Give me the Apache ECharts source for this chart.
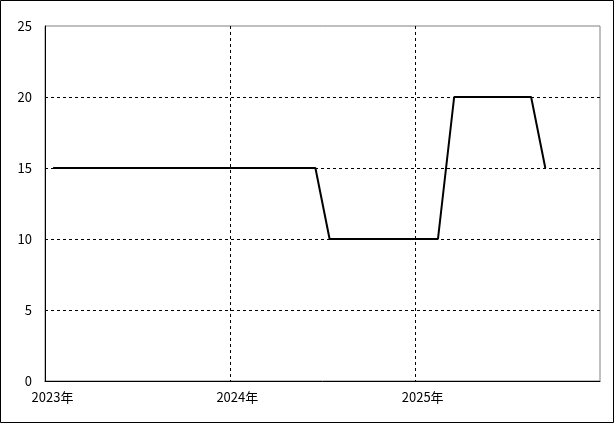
<!DOCTYPE html>
<html>
<head>
<meta charset="utf-8">
<script src="https://cdn.jsdelivr.net/npm/echarts@6/dist/echarts.min.js"></script>
<style>
html,body{margin:0;padding:0;background:#fff;}
#c{width:615px;height:424px;}
</style>
</head>
<body>
<div id="c"></div>
<script>
// Data
var dates  = ['2023-01-17', '2024-06-18', '2024-07-16', '2025-02-15', '2025-03-19', '2025-08-18', '2025-09-15'];
var values = [15, 15, 10, 10, 20, 20, 15];
var xMin = '2023-01-01';
var xMax = '2026-01-01';
var yTicks = [0, 5, 10, 15, 20, 25];

var chart = echarts.init(document.getElementById('c'), null, {renderer: 'canvas'});
var YEAR = 365 * 24 * 3600 * 1000;
var font = '"Noto Sans CJK JP", "DejaVu Sans", sans-serif';

chart.setOption({
  animation: false,
  backgroundColor: '#fff',
  graphic: [{
    type: 'rect',
    shape: {x: 0.5, y: 0.5, width: 613, height: 422},
    style: {fill: null, stroke: '#000', lineWidth: 1},
    silent: true,
    z: 100
  }],
  grid: {
    left: 45, right: 15, top: 26, bottom: 43,
    show: true,
    borderColor: '#808080',
    borderWidth: 1,
    backgroundColor: 'transparent'
  },
  xAxis: {
    type: 'time',
    min: xMin,
    max: xMax,
    minInterval: YEAR,
    maxInterval: YEAR + 2 * 24 * 3600 * 1000,
    axisLine: {show: true, lineStyle: {color: '#000', width: 1}},
    axisTick: {show: false},
    splitLine: {show: true, showMinLine: false, showMaxLine: false, lineStyle: {color: '#000', type: [3, 3], width: 1}},
    axisLabel: {
      color: '#000',
      fontSize: 13,
      fontFamily: font,
      margin: 10,
      padding: [0, 0, 0, 15],
      showMaxLabel: false,
      hideOverlap: false,
      formatter: function (v) { return new Date(v).getFullYear() + '年'; }
    }
  },
  yAxis: {
    type: 'value',
    min: yTicks[0],
    max: yTicks[yTicks.length - 1],
    interval: yTicks[1] - yTicks[0],
    axisLine: {show: true, lineStyle: {color: '#000', width: 1}},
    axisTick: {show: false},
    splitLine: {show: true, showMinLine: false, showMaxLine: false, lineStyle: {color: '#000', type: [3, 3], width: 1}},
    axisLabel: {color: '#000', fontSize: 13, fontFamily: font, margin: 13}
  },
  series: [{
    type: 'line',
    data: dates.map(function (d, i) { return [d, values[i]]; }),
    showSymbol: false,
    symbol: 'none',
    lineStyle: {color: '#000', width: 2},
    z: 10
  }]
});
</script>
</body>
</html>
